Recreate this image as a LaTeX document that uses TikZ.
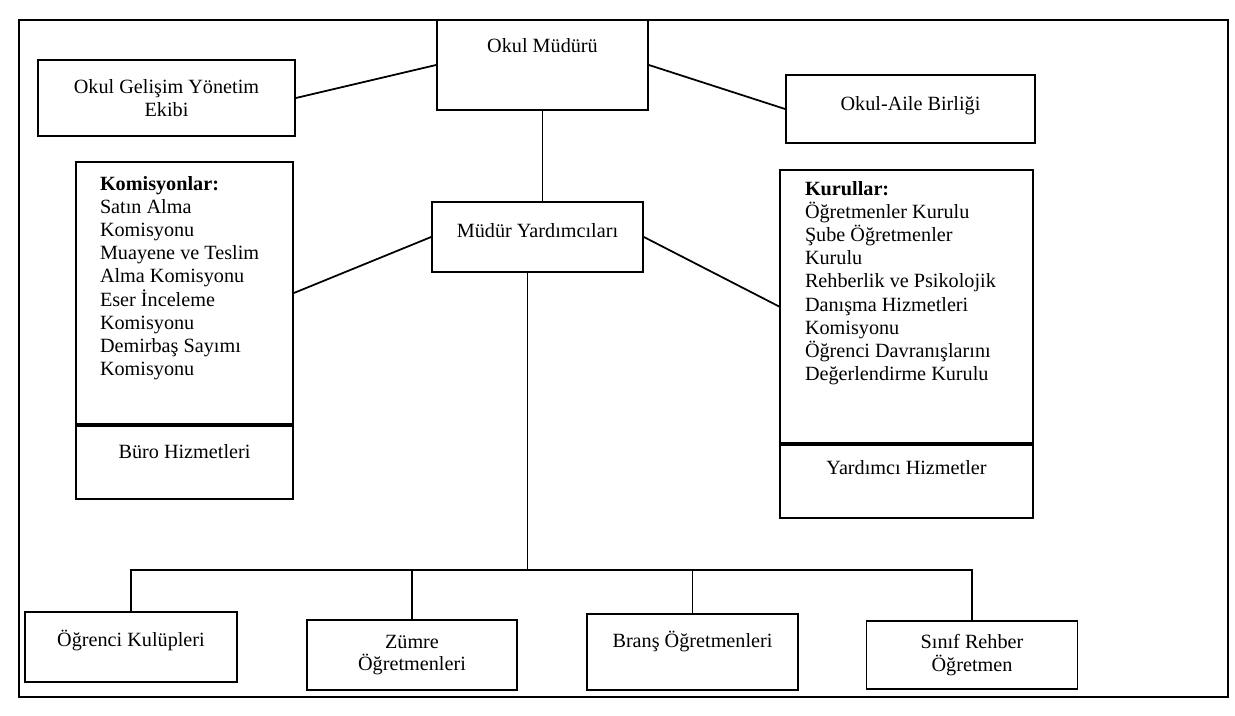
\documentclass[tikz,border=0pt]{standalone}
\usepackage{fontspec}
\setmainfont{Liberation Serif}
\usetikzlibrary{positioning}

\begin{document}
\begin{tikzpicture}[line width=1pt]
    \useasboundingbox (0,0) rectangle (24.7,-14.32);
    \tikzset{
        box/.style={rectangle,draw,inner sep=0pt,minimum width=4.22cm,minimum height=1.4cm},
        txt/.style={inner sep=0pt,align=center,font=\fontsize{11.5}{13}\selectfont},
        list/.style={inner sep=0pt,align=left,anchor=north west,font=\fontsize{11.5}{13.2}\selectfont}
    }
    % frame
    \draw (0.38,-0.40) rectangle (24.56,-13.94);

    % top row
    \node[box, minimum height=1.8cm] (mudur) at (10.85,-1.30) {};
    \node[txt, below=0.36cm of mudur.north] (mudur-t) {Okul Müdürü};
    \node[box, minimum width=5.14cm, minimum height=1.52cm] (ogye) at (3.33,-1.96) {};
    \node[txt] (ogye-t) at (ogye) {Okul Gelişim Yönetim\\Ekibi};
    \node[box, minimum width=4.98cm, minimum height=1.36cm] (aile) at (18.21,-2.18) {};
    \node[txt, below=0.42cm of aile.north] (aile-t) {Okul-Aile Birliği};

    % second level
    \node[box] (yard) at (10.75,-4.74) {};
    \node[txt, below=0.42cm of yard.north] (yard-t) {Müdür Yardımcıları};

    \node[box, minimum width=4.34cm, minimum height=5.24cm] (komisyon) at (3.69,-5.86) {};
    \node[box, minimum width=4.34cm, minimum height=1.46cm, below=0pt of komisyon] (buro) {};
    \node[list] (komisyon-t) at ([xshift=0.48cm,yshift=-0.28cm]komisyon.north west)
        {\textbf{Komisyonlar:}\\Satın Alma\\Komisyonu\\Muayene ve Teslim\\Alma Komisyonu\\Eser İnceleme\\Komisyonu\\Demirbaş Sayımı\\Komisyonu};
    \node[txt, below=0.38cm of buro.north] (buro-t) {Büro Hizmetleri};

    \node[box, minimum width=5.06cm, minimum height=5.46cm] (kurul) at (18.13,-6.13) {};
    \node[box, minimum width=5.06cm, minimum height=1.46cm, below=0pt of kurul] (yardimci) {};
    \node[list] (kurul-t) at ([xshift=0.5cm,yshift=-0.22cm]kurul.north west)
        {\textbf{Kurullar:}\\Öğretmenler Kurulu\\Şube Öğretmenler\\Kurulu\\Rehberlik ve Psikolojik\\Danışma Hizmetleri\\Komisyonu\\Öğrenci Davranışlarını\\Değerlendirme Kurulu};
    \node[txt, below=0.32cm of yardimci.north] (yardimci-t) {Yardımcı Hizmetler};

    % bottom row
    \node[box, minimum width=4.24cm] (kulup) at (2.62,-12.94) {};
    \node[txt, below=0.36cm of kulup.north] (kulup-t) {Öğrenci Kulüpleri};
    \node[box, minimum width=4.2cm] (zumre) at (8.24,-13.10) {};
    \node[txt] (zumre-t) at (zumre) {Zümre\\Öğretmenleri};
    \node[box, minimum height=1.52cm] (brans) at (13.85,-13.04) {};
    \node[txt, below=0.34cm of brans.north] (brans-t) {Branş Öğretmenleri};
    \node[box, minimum height=1.36cm] (sinif) at (19.44,-13.10) {};
    \node[txt] (sinif-t) at (sinif) {Sınıf Rehber\\Öğretmen};

    % connectors
    \draw (mudur.west) -- (ogye.east);
    \draw (mudur.east) -- (aile.west);
    \draw (mudur.south) -- (mudur.south |- yard.north);
    \draw (yard.west) -- (komisyon.east);
    \draw (yard.east) -- (kurul.west);
    \coordinate (bus) at (10.55,-11.40);
    \draw (bus |- yard.south) -- (bus);
    \draw (kulup.north) |- (bus) -| (sinif.north);
    \draw (zumre.north) -- (zumre.north |- bus);
    \draw (brans.north) -- (brans.north |- bus);
\end{tikzpicture}
\end{document}
